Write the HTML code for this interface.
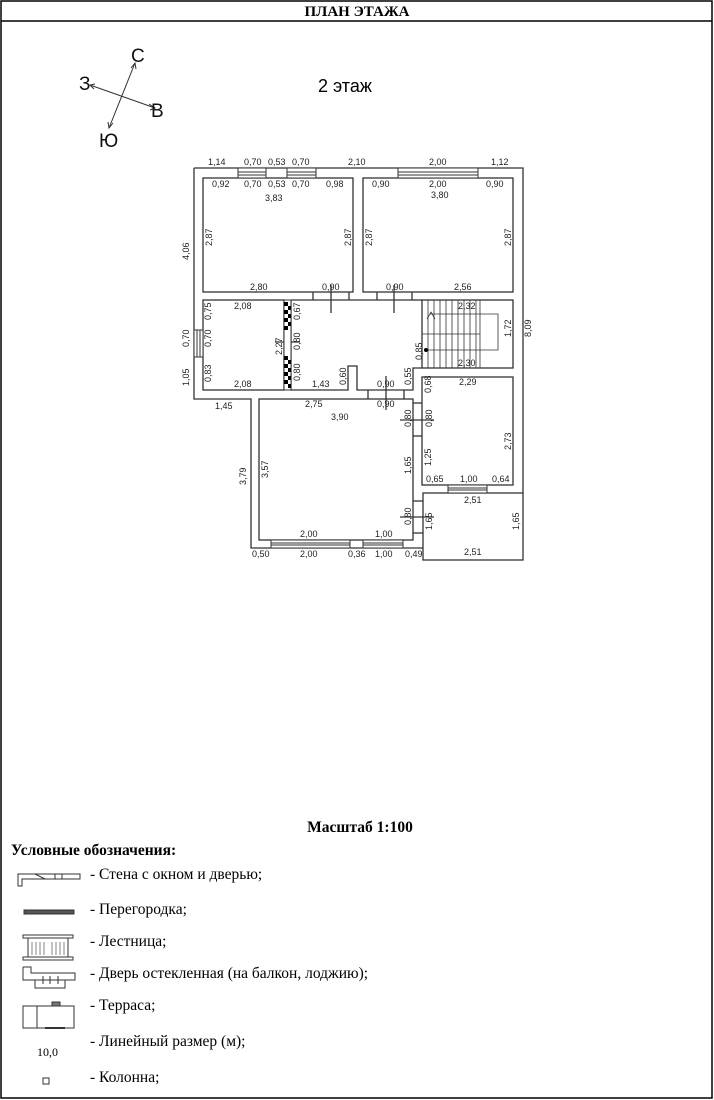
<!DOCTYPE html>
<html><head><meta charset="utf-8"><style>
html,body{margin:0;padding:0;background:#fff}
svg{display:block}
.d{font-family:"Liberation Sans",sans-serif;font-size:9px;fill:#222}
.s{font-family:"Liberation Serif",serif;font-size:15.5px;fill:#000}
</style></head><body>
<svg width="714" height="1100" viewBox="0 0 714 1100" xmlns="http://www.w3.org/2000/svg">
<rect x="1" y="1" width="711" height="1097" fill="none" stroke="#000" stroke-width="1.5"/>
<line x1="1" y1="21" x2="712" y2="21" stroke="#000" stroke-width="1.5"/>
<text x="357" y="16" text-anchor="middle" style="font-family:'Liberation Serif',serif;font-weight:bold;font-size:15px">ПЛАН ЭТАЖА</text>

<g stroke="#333" stroke-width="1" fill="none">
<line x1="135" y1="63" x2="109" y2="128"/><line x1="90" y1="85" x2="155" y2="108"/>
<polyline points="131,68 135,63 136,69"/><polyline points="108,122 109,128 113,123"/>
<polyline points="95,84 90,85 94,89"/><polyline points="149,104 155,108 150,110"/>
</g>
<g style="font-family:'Liberation Sans',sans-serif;font-size:19px" fill="#111">
<text x="131" y="62">С</text><text x="79" y="90">З</text><text x="151" y="117">В</text><text x="99" y="147">Ю</text>
</g>
<text x="318" y="92" style="font-family:'Liberation Sans',sans-serif;font-size:18px">2 этаж</text>

<g stroke="#333" stroke-width="1.3" fill="none">
<polyline points="194,168 523,168 523,493"/>
<polyline points="194,168 194,399 251,399 251,548 423,548"/>
<rect x="203" y="178" width="150" height="114"/>
<rect x="363" y="178" width="150" height="114"/>
<rect x="203" y="300" width="81" height="90"/>
<polyline points="291,300 413,300"/>
<polyline points="291,300 291,390 348,390 348,366 357,366 357,390 413,390 413,368 422,368"/>
<rect x="422" y="300" width="91" height="68"/>
<rect x="422" y="377" width="91" height="108"/>
<rect x="259" y="399" width="154" height="141"/>
<rect x="423" y="493" width="100" height="67"/>
<line x1="413" y1="300" x2="422" y2="300"/>
<line x1="313" y1="292" x2="313" y2="300"/><line x1="349" y1="292" x2="349" y2="300"/>
<line x1="377" y1="292" x2="377" y2="300"/><line x1="412" y1="292" x2="412" y2="300"/>
<line x1="368" y1="390" x2="368" y2="399"/><line x1="404" y1="390" x2="404" y2="399"/>
<line x1="413" y1="403" x2="422" y2="403"/><line x1="413" y1="436" x2="422" y2="436"/>
<line x1="413" y1="501" x2="423" y2="501"/><line x1="413" y1="533" x2="423" y2="533"/>
<line x1="331" y1="285" x2="331" y2="313"/><line x1="394" y1="285" x2="394" y2="313"/>
<line x1="386" y1="376" x2="386" y2="410"/><line x1="400" y1="420" x2="434" y2="420"/>
<line x1="400" y1="517" x2="434" y2="517"/><line x1="275" y1="342" x2="300" y2="342"/>
</g>
<g fill="#fff" stroke="#333" stroke-width="1">
<rect x="238" y="168" width="28" height="10"/><line x1="238" y1="172" x2="266" y2="172"/><line x1="238" y1="175" x2="266" y2="175"/>
<rect x="287" y="168" width="29" height="10"/><line x1="287" y1="172" x2="316" y2="172"/><line x1="287" y1="175" x2="316" y2="175"/>
<rect x="398" y="168" width="80" height="10"/><line x1="398" y1="172" x2="478" y2="172"/><line x1="398" y1="175" x2="478" y2="175"/>
<rect x="194" y="330" width="9" height="27"/><line x1="197" y1="330" x2="197" y2="357"/><line x1="200" y1="330" x2="200" y2="357"/>
<rect x="271" y="540" width="79" height="8"/><line x1="271" y1="543" x2="350" y2="543"/><line x1="271" y1="545" x2="350" y2="545"/>
<rect x="363" y="540" width="40" height="8"/><line x1="363" y1="543" x2="403" y2="543"/><line x1="363" y1="545" x2="403" y2="545"/>
<rect x="448" y="485" width="39" height="8"/><line x1="448" y1="488" x2="487" y2="488"/><line x1="448" y1="490" x2="487" y2="490"/>
</g>
<rect x="284" y="300" width="7" height="90" fill="#fff" stroke="#333"/>
<g fill="#000">
<rect x="284" y="302" width="4" height="4"/><rect x="288" y="306" width="3" height="4"/><rect x="284" y="310" width="4" height="4"/><rect x="288" y="314" width="3" height="4"/><rect x="284" y="318" width="4" height="4"/><rect x="288" y="322" width="3" height="4"/><rect x="284" y="326" width="4" height="4"/>
<rect x="284" y="356" width="4" height="4"/><rect x="288" y="360" width="3" height="4"/><rect x="284" y="364" width="4" height="4"/><rect x="288" y="368" width="3" height="4"/><rect x="284" y="372" width="4" height="4"/><rect x="288" y="376" width="3" height="4"/><rect x="284" y="380" width="4" height="4"/><rect x="288" y="384" width="3" height="4"/>
</g>
<g stroke="#333" stroke-width="0.8" fill="none">
<line x1="428" y1="300" x2="428" y2="368"/><line x1="434" y1="300" x2="434" y2="368"/><line x1="440" y1="300" x2="440" y2="368"/><line x1="446" y1="300" x2="446" y2="368"/><line x1="452" y1="300" x2="452" y2="368"/><line x1="458" y1="300" x2="458" y2="368"/><line x1="464" y1="300" x2="464" y2="368"/><line x1="470" y1="300" x2="470" y2="368"/><line x1="476" y1="300" x2="476" y2="368"/><line x1="480" y1="300" x2="480" y2="368"/>
<line x1="422" y1="334" x2="480" y2="334"/>
<polyline points="430,314 498,314 498,350 426,350"/>
<polyline points="427,319 431,312 435,319"/>
</g>
<circle cx="426" cy="350" r="2" fill="#000"/>

<g class="d">
<text x="208" y="165">1,14</text><text x="244" y="165">0,70</text><text x="268" y="165">0,53</text><text x="292" y="165">0,70</text><text x="348" y="165">2,10</text><text x="429" y="165">2,00</text><text x="491" y="165">1,12</text>
<text x="212" y="187">0,92</text><text x="244" y="187">0,70</text><text x="268" y="187">0,53</text><text x="292" y="187">0,70</text><text x="326" y="187">0,98</text>
<text x="372" y="187">0,90</text><text x="429" y="187">2,00</text><text x="486" y="187">0,90</text>
<text x="265" y="201">3,83</text><text x="431" y="198">3,80</text>
<text x="250" y="290">2,80</text><text x="322" y="290">0,90</text><text x="386" y="290">0,90</text><text x="454" y="290">2,56</text>
<text x="234" y="309">2,08</text><text x="458" y="309">2,32</text>
<text x="234" y="387">2,08</text><text x="312" y="387">1,43</text><text x="377" y="387">0,90</text><text x="458" y="366">2,30</text>
<text x="459" y="385">2,29</text>
<text x="215" y="409">1,45</text><text x="305" y="407">2,75</text><text x="377" y="407">0,90</text><text x="331" y="420">3,90</text>
<text x="426" y="482">0,65</text><text x="460" y="482">1,00</text><text x="492" y="482">0,64</text>
<text x="464" y="503">2,51</text><text x="464" y="555">2,51</text>
<text x="300" y="537">2,00</text><text x="375" y="537">1,00</text>
<text x="252" y="557">0,50</text><text x="300" y="557">2,00</text><text x="348" y="557">0,36</text><text x="375" y="557">1,00</text><text x="405" y="557">0,49</text>
</g>
<g class="d">
<text transform="translate(189,260) rotate(-90)">4,06</text>
<text transform="translate(212,246) rotate(-90)">2,87</text><text transform="translate(351,246) rotate(-90)">2,87</text>
<text transform="translate(372,246) rotate(-90)">2,87</text><text transform="translate(511,246) rotate(-90)">2,87</text>
<text transform="translate(189,347) rotate(-90)">0,70</text><text transform="translate(189,386) rotate(-90)">1,05</text>
<text transform="translate(211,320) rotate(-90)">0,75</text><text transform="translate(211,347) rotate(-90)">0,70</text><text transform="translate(211,382) rotate(-90)">0,83</text>
<text transform="translate(282,355) rotate(-90)">2,27</text>
<text transform="translate(300,320) rotate(-90)">0,67</text><text transform="translate(300,350) rotate(-90)">0,80</text><text transform="translate(300,381) rotate(-90)">0,80</text>
<text transform="translate(346,385) rotate(-90)">0,60</text><text transform="translate(411,385) rotate(-90)">0,55</text>
<text transform="translate(422,360) rotate(-90)">0,85</text>
<text transform="translate(511,337) rotate(-90)">1,72</text><text transform="translate(531,337) rotate(-90)">8,09</text>
<text transform="translate(431,393) rotate(-90)">0,68</text>
<text transform="translate(411,427) rotate(-90)">0,80</text><text transform="translate(432,427) rotate(-90)">0,80</text>
<text transform="translate(511,450) rotate(-90)">2,73</text>
<text transform="translate(431,466) rotate(-90)">1,25</text>
<text transform="translate(411,474) rotate(-90)">1,65</text>
<text transform="translate(246,485) rotate(-90)">3,79</text><text transform="translate(268,478) rotate(-90)">3,57</text>
<text transform="translate(411,525) rotate(-90)">0,80</text><text transform="translate(432,530) rotate(-90)">1,65</text>
<text transform="translate(519,530) rotate(-90)">1,65</text>
</g>

<text x="360" y="832" text-anchor="middle" style="font-family:'Liberation Serif',serif;font-weight:bold;font-size:15.5px">Масштаб 1:100</text>
<text x="11" y="855" style="font-family:'Liberation Serif',serif;font-weight:bold;font-size:15.5px">Условные обозначения:</text>
<g class="s">
<text x="90" y="879">- Стена с окном и дверью;</text>
<text x="90" y="914">- Перегородка;</text>
<text x="90" y="946">- Лестница;</text>
<text x="90" y="978">- Дверь остекленная (на балкон, лоджию);</text>
<text x="90" y="1010">- Терраса;</text>
<text x="90" y="1046">- Линейный размер (м);</text>
<text x="90" y="1082">- Колонна;</text>
<text x="37" y="1056" style="font-size:12px">10,0</text>
</g>
<g stroke="#333" stroke-width="1" fill="none">
<polyline points="18,886 18,874 80,874 80,879 22,879 22,886 18,886"/>
<line x1="35" y1="874" x2="45" y2="879"/><line x1="55" y1="874" x2="55" y2="879"/><line x1="62" y1="874" x2="62" y2="879"/>
<rect x="24" y="910" width="50" height="4" fill="#555"/>
<rect x="23" y="935" width="50" height="3"/><rect x="23" y="957" width="50" height="3"/>
<rect x="28" y="938" width="40" height="19"/>
<g stroke-width="0.6"><line x1="32" y1="942" x2="32" y2="955"/><line x1="36" y1="942" x2="36" y2="955"/><line x1="40" y1="942" x2="40" y2="955"/><line x1="44" y1="942" x2="44" y2="955"/><line x1="52" y1="942" x2="52" y2="955"/><line x1="56" y1="942" x2="56" y2="955"/><line x1="60" y1="942" x2="60" y2="955"/><line x1="64" y1="942" x2="64" y2="955"/></g>
<polyline points="23,967 23,980 75,980 75,973 31,973 31,967 23,967"/>
<rect x="35" y="980" width="30" height="8"/>
<line x1="43" y1="976" x2="43" y2="984"/><line x1="50" y1="976" x2="50" y2="984"/><line x1="58" y1="976" x2="58" y2="984"/>
<rect x="23" y="1006" width="51" height="22"/><line x1="37" y1="1006" x2="37" y2="1028"/>
<rect x="52" y="1002" width="8" height="4" fill="#777"/><line x1="45" y1="1028" x2="65" y2="1028" stroke-width="2"/>
<rect x="43" y="1078" width="6" height="6"/>
</g>
</svg>
</body></html>
